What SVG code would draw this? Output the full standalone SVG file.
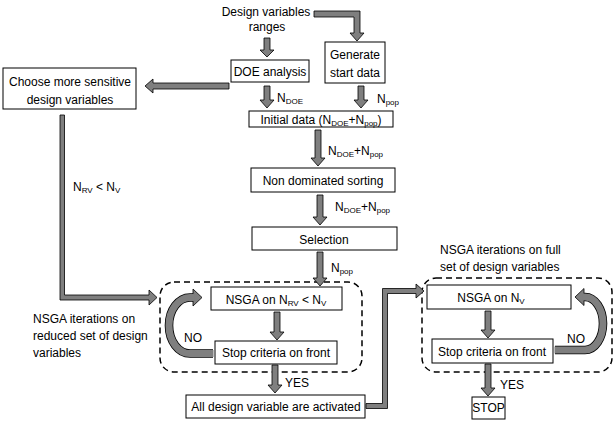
<svg xmlns="http://www.w3.org/2000/svg" width="614" height="426" viewBox="0 0 614 426">
<style>
text{font-family:"Liberation Sans",Arial,sans-serif;font-size:12px;fill:#000}
.c{text-anchor:middle}
.s{font-size:8px}
.box{fill:#fff;stroke:#000;stroke-width:1}
.dash{fill:none;stroke:#000;stroke-width:1.5;stroke-dasharray:6,4}
.ar{fill:#7f7f7f;stroke:#000;stroke-width:0.8}
.lo{fill:none;stroke:#000;stroke-width:8.6}
.li{fill:none;stroke:#7f7f7f;stroke-width:7}
</style>
<rect width="614" height="426" fill="#fff"/>
<g id="containers">
<rect class="dash" x="160" y="282" width="202" height="90" rx="14"/>
<rect class="dash" x="422" y="278" width="190" height="94" rx="14"/>
</g>
<g id="connectors">
<polygon class="ar" points="314,11 360,11 360,33 364,33 357,41 350,33 354,33 354,17 314,17"/>
<polygon class="ar" points="264,38 270,38 270,50 274,50 267,57 260,50 264,50"/>
<polygon class="ar" points="229,83 153,83 153,79 145,86 153,93 153,89 229,89"/>
<polygon class="ar" points="264,86 270,86 270,100 274,100 267,108 260,100 264,100"/>
<polygon class="ar" points="358,86 364,86 364,100 368,100 361,108 354,100 358,100"/>
<polygon class="ar" points="315,130 321,130 321,158 325,158 318,166 311,158 315,158"/>
<polygon class="ar" points="317,195 323,195 323,217 327,217 320,225 313,217 317,217"/>
<polygon class="ar" points="317,252 323,252 323,278 327,278 320,286 313,278 317,278"/>
<polygon class="ar" points="274,312 280,312 280,332 284,332 277,340 270,332 274,332"/>
<polygon class="ar" points="272,365 278,365 278,385 282,385 275,393 268,385 272,385"/>
<polygon class="ar" points="485,311 491,311 491,330 495,330 488,338 481,330 485,330"/>
<polygon class="ar" points="485,364 491,364 491,388 495,388 488,396 481,388 485,388"/>
<polygon class="ar" points="60,115 64.5,115 64.5,295 149,295 149,290 157,297.5 149,305 149,300 60,300"/>
<polygon class="ar" points="366,403.5 382.5,403.5 382.5,288.5 416,288.5 416,284 424,291 416,298 416,293.5 387.5,293.5 387.5,408.5 366,408.5"/>
<path class="lo" d="M213,353.5 H190 A21,28 0 0 1 190,297.5 H193"/>
<polygon class="ar" points="193,289 202,297.5 193,306"/>
<path class="li" d="M213.5,353.5 H190 A21,28 0 0 1 190,297.5 H194.5"/>
<path class="lo" d="M555,350 H585 A18,26.5 0 0 0 585,297 H584"/>
<polygon class="ar" points="584,288.5 575,297 584,305.5"/>
<path class="li" d="M554.5,350 H585 A18,26.5 0 0 0 585,297 H582.5"/>
</g>
<g id="n-ranges">
<text class="c" x="266" y="16">Design variables</text>
<text class="c" x="267" y="31">ranges</text>
</g>
<g id="n-doe">
<rect class="box" x="231" y="60" width="78" height="22"/>
<text class="c" x="270" y="76">DOE analysis</text>
</g>
<g id="n-generate">
<rect class="box" x="325" y="42" width="60" height="41"/>
<text class="c" x="355" y="59">Generate</text>
<text class="c" x="355" y="77">start data</text>
</g>
<g id="n-choose">
<rect class="box" x="3" y="68" width="133" height="41"/>
<text class="c" x="70" y="86">Choose more sensitive</text>
<text class="c" x="70" y="104">design variables</text>
</g>
<g id="n-initial">
<rect class="box" x="249" y="111" width="144" height="16"/>
<text class="c" x="321" y="124">Initial data (N<tspan class="s" dy="2">DOE</tspan><tspan dy="-2">+N</tspan><tspan class="s" dy="2">pop</tspan><tspan dy="-2">)</tspan></text>
</g>
<g id="n-nds">
<rect class="box" x="251" y="168" width="144" height="24"/>
<text class="c" x="323" y="185">Non dominated sorting</text>
</g>
<g id="n-selection">
<rect class="box" x="252" y="227" width="145" height="23"/>
<text class="c" x="324" y="244">Selection</text>
</g>
<g id="n-nsga-rv">
<rect class="box" x="211" y="287" width="131" height="23"/>
<text class="c" x="276" y="304">NSGA on N<tspan class="s" dy="2">RV</tspan><tspan dy="-2"> &lt; N</tspan><tspan class="s" dy="2">V</tspan></text>
</g>
<g id="n-stop-left">
<rect class="box" x="215" y="341" width="122" height="23"/>
<text class="c" x="276" y="357">Stop criteria on front</text>
</g>
<g id="n-all">
<rect class="box" x="186" y="395" width="179" height="23"/>
<text class="c" x="276" y="411">All design variable are activated</text>
</g>
<g id="n-nsga-v">
<rect class="box" x="427" y="285" width="144" height="24"/>
<text class="c" x="491" y="302">NSGA on N<tspan class="s" dy="2">V</tspan></text>
</g>
<g id="n-stop-right">
<rect class="box" x="432" y="339" width="121" height="24"/>
<text class="c" x="492" y="356">Stop criteria on front</text>
</g>
<g id="n-stop">
<rect class="box" x="472" y="397" width="33" height="22"/>
<text class="c" x="488.5" y="412">STOP</text>
</g>
<g id="labels">
<text x="277" y="102">N<tspan class="s" dy="2">DOE</tspan></text>
<text x="377" y="103">N<tspan class="s" dy="2">pop</tspan></text>
<text x="328" y="155">N<tspan class="s" dy="2">DOE</tspan><tspan dy="-2">+N</tspan><tspan class="s" dy="2">pop</tspan></text>
<text x="335" y="211">N<tspan class="s" dy="2">DOE</tspan><tspan dy="-2">+N</tspan><tspan class="s" dy="2">pop</tspan></text>
<text x="331" y="272">N<tspan class="s" dy="2">pop</tspan></text>
<text x="73" y="191">N<tspan class="s" dy="2">RV</tspan><tspan dy="-2"> &lt; N</tspan><tspan class="s" dy="2">V</tspan></text>
<text x="33" y="323">NSGA iterations on</text>
<text x="33" y="340">reduced set of design</text>
<text x="33" y="357">variables</text>
<text x="440" y="254">NSGA iterations on full</text>
<text x="440" y="271">set of design variables</text>
<text x="184" y="342">NO</text>
<text x="285" y="387">YES</text>
<text x="567" y="343">NO</text>
<text x="500" y="389">YES</text>
</g>
</svg>
